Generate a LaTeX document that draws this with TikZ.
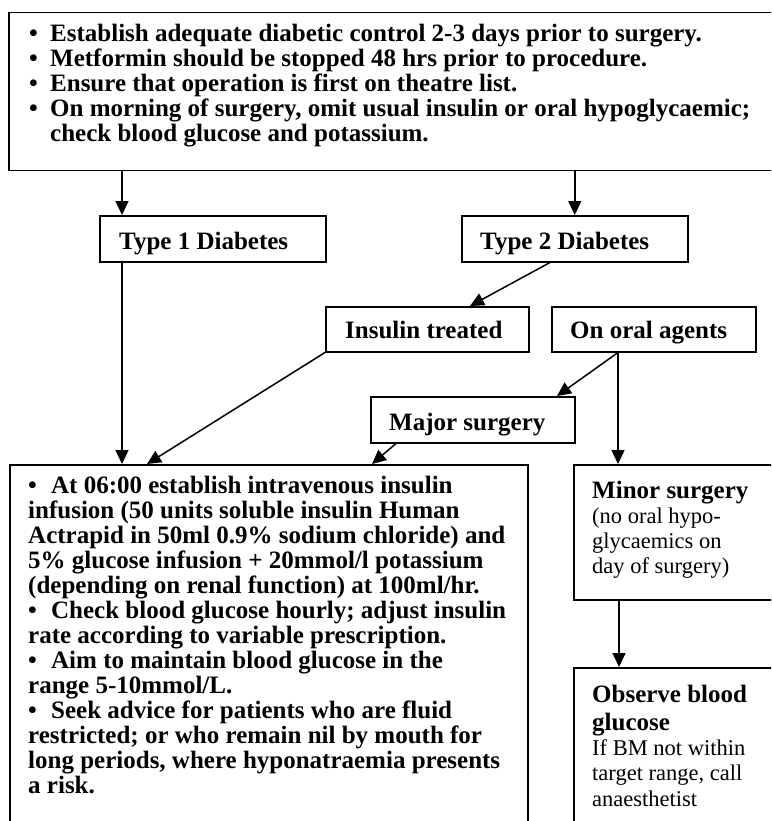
\documentclass[tikz,border=0pt]{standalone}
\usepackage{fontspec}
\setmainfont{Liberation Serif}
\usetikzlibrary{arrows.meta,calc}
\newcommand{\bulA}{\makebox[21pt][l]{\textbullet}}
\newcommand{\bulB}{\makebox[23pt][l]{\textbullet}}
\begin{document}
\begin{tikzpicture}[x=1pt,y=-1pt,
  box/.style={draw, line width=1.5pt, rectangle, inner sep=0pt, anchor=north west},
  bt/.style={font=\fontsize{25}{25}\selectfont\bfseries, anchor=base west, inner sep=0pt},
  nt/.style={font=\fontsize{22.5}{25}\selectfont, anchor=base west, inner sep=0pt},
  arr/.style={line width=1.5pt, -{Triangle[length=14pt,width=13pt]}},
  ln/.style={line width=1.5pt}
]
\useasboundingbox (0,0) rectangle (771,821);
\clip (0,0) rectangle (771,821);

% boxes
\node[box, minimum width=772pt, minimum height=158pt] (top) at (8,12) {};
\node[box, minimum width=226pt, minimum height=46pt] (type1) at (99,215) {};
\node[box, minimum width=226pt, minimum height=46pt] (type2) at (461,215) {};
\node[box, minimum width=203pt, minimum height=45pt] (insulin) at (325,306) {};
\node[box, minimum width=204pt, minimum height=45pt] (oral) at (551,306) {};
\node[box, minimum width=204pt, minimum height=46pt] (major) at (370,396) {};
\node[box, minimum width=518pt, minimum height=380pt] (main) at (9,464) {};
\node[box, minimum width=210pt, minimum height=135pt] (minor) at (573,464) {};
\node[box, minimum width=210pt, minimum height=180pt] (observe) at (573,667) {};

% top text
\node[bt] (t1) at (29,41.7) {\bulA Establish adequate diabetic control 2-3 days prior to surgery.};
\node[bt] (t2) at (29,66.7) {\bulA Metformin should be stopped 48 hrs prior to procedure.};
\node[bt] (t3) at (29,91.7) {\bulA Ensure that operation is first on theatre list.};
\node[bt] (t4) at (29,116.7) {\bulA On morning of surgery, omit usual insulin or oral hypoglycaemic;};
\node[bt] (t5) at (50,141.7) {check blood glucose and potassium.};

% small boxes text
\node[bt] (l1) at (119,249) {Type 1 Diabetes};
\node[bt] (l2) at (480,249) {Type 2 Diabetes};
\node[bt] (l3) at (345,338) {Insulin treated};
\node[bt] (l4) at (570,338) {On oral agents};
\node[bt] (l5) at (389,430) {Major surgery};

% main text
\node[bt] (m1) at (28,493) {\bulB At 06:00 establish intravenous insulin};
\node[bt] (m2) at (28,518) {infusion (50 units soluble insulin Human};
\node[bt] (m3) at (28,543) {Actrapid in 50ml 0.9\% sodium chloride) and};
\node[bt] (m4) at (28,568) {5\% glucose infusion + 20mmol/l potassium};
\node[bt] (m5) at (28,593) {(depending on renal function) at 100ml/hr.};
\node[bt] (m6) at (28,618) {\bulB Check blood glucose hourly; adjust insulin};
\node[bt] (m7) at (28,643) {rate according to variable prescription.};
\node[bt] (m8) at (28,668) {\bulB Aim to maintain blood glucose in the};
\node[bt] (m9) at (28,693) {range 5-10mmol/L.};
\node[bt] (m10) at (28,718) {\bulB Seek advice for patients who are fluid};
\node[bt] (m11) at (28,743) {restricted; or who remain nil by mouth for};
\node[bt] (m12) at (28,768) {long periods, where hyponatraemia presents};
\node[bt] (m13) at (28,793) {a risk.};

% minor surgery text
\node[bt] (n1) at (592,498) {Minor surgery};
\node[nt] (n2) at (592,523) {(no oral hypo-};
\node[nt] (n3) at (592,548) {glycaemics on};
\node[nt] (n4) at (592,573) {day of surgery)};

% observe text
\node[bt] (o1) at (592,702) {Observe blood};
\node[bt] (o2) at (592,730) {glucose};
\node[nt] (o3) at (592,755) {If BM not within};
\node[nt] (o4) at (592,780) {target range, call};
\node[nt] (o5) at (592,806) {anaesthetist};

% connectors
\draw[arr] ([xshift=23pt]type1.north west |- top.south) -- ([xshift=23pt]type1.north west);
\draw[arr] (type2.north |- top.south) -- (type2.north);
\draw[arr] ([xshift=89pt]type2.south west) -- ([xshift=145pt]insulin.north west);
\draw[arr] ([xshift=23pt]type1.south west) -- ([xshift=113pt]main.north west);
\draw[arr] (insulin.south west) -- ([xshift=138pt]main.north west);
\draw[arr] ([xshift=67pt]oral.south west) -- ([xshift=187pt]major.north west);
\draw[arr] ([xshift=67pt]oral.south west) -- ([xshift=45pt]minor.north west);
\draw[arr] ([xshift=26pt]major.south west) -- ([xshift=363pt]main.north west);
\draw[arr] ([xshift=46pt]minor.south west) -- ([xshift=46pt]observe.north west);
\end{tikzpicture}
\end{document}
